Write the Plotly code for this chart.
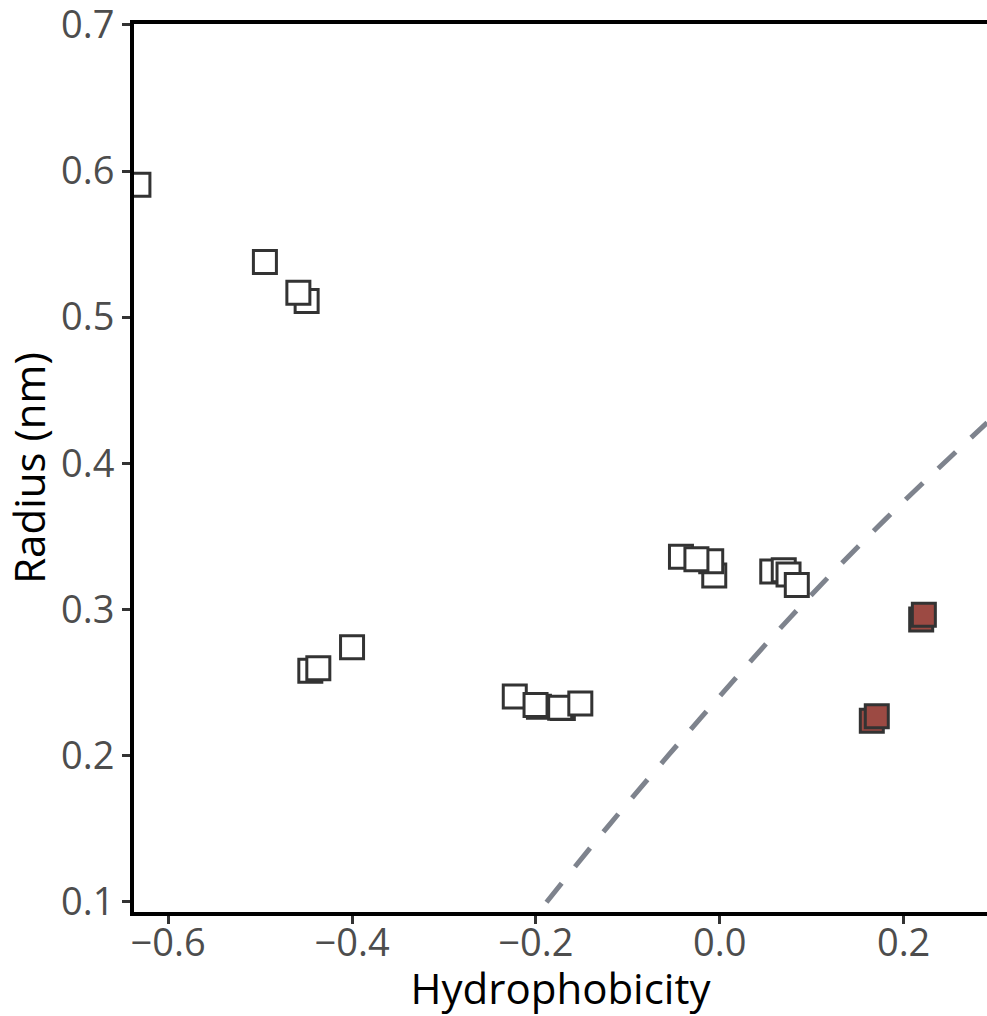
import plotly.graph_objects as go

# Open squares (hydrophobicity, radius)
open_x = [-0.6324, -0.4948, -0.4494, -0.4584, -0.4454, -0.4367, -0.4000,
          -0.2230, -0.1967, -0.2004, -0.1707, -0.1736, -0.1517,
          -0.0060, -0.0093, -0.0422, -0.0254,
          0.0571, 0.0696, 0.0748, 0.0838]
open_y = [0.5906, 0.5377, 0.5110, 0.5167, 0.2581, 0.2597, 0.2741,
          0.2404, 0.2335, 0.2347, 0.2325, 0.2328, 0.2356,
          0.3233, 0.3330, 0.3361, 0.3343,
          0.3260, 0.3269, 0.3240, 0.3168]

# Filled (predicted) squares
pred_x = [0.2191, 0.2220, 0.1654, 0.1708]
pred_y = [0.2932, 0.2964, 0.2239, 0.2269]

# Decision boundary (dashed curve)
bound_x = [-0.1885, -0.1188, -0.0216, 0.0775, 0.1806, 0.2909]
bound_y = [0.0997, 0.1537, 0.2251, 0.2951, 0.3620, 0.4278]

x_ticks = [-0.6, -0.4, -0.2, 0.0, 0.2]
x_ticktext = ["\u22120.6", "\u22120.4", "\u22120.2", "0.0", "0.2"]
y_ticks = [0.1, 0.2, 0.3, 0.4, 0.5, 0.6, 0.7]
y_ticktext = ["0.1", "0.2", "0.3", "0.4", "0.5", "0.6", "0.7"]

FONT = "Open Sans"

fig = go.Figure()
fig.add_trace(go.Scatter(
    x=bound_x, y=bound_y, mode="lines", line_shape="spline",
    line=dict(color="#7E838D", width=5, dash="24px,21px"),
    hoverinfo="skip", showlegend=False))
fig.add_trace(go.Scatter(
    x=open_x, y=open_y, mode="markers",
    marker=dict(symbol="square", size=23, color="white",
                line=dict(color="#333333", width=3)),
    showlegend=False))
fig.add_trace(go.Scatter(
    x=pred_x, y=pred_y, mode="markers",
    marker=dict(symbol="square", size=23, color="#9C4A43",
                line=dict(color="#333333", width=3)),
    showlegend=False))

fig.update_layout(
    width=987, height=1016,
    margin=dict(l=134, r=0, t=24, b=104, autoexpand=False),
    paper_bgcolor="white", plot_bgcolor="white",
    font=dict(family=FONT, color="#000000"),
    annotations=[dict(text="Prediction", xref="paper", yref="paper",
                      x=0.505, y=1, xanchor="center", yanchor="bottom",
                      yshift=11, showarrow=False,
                      font=dict(family=FONT, size=42, color="#000000"))],
)
fig.update_xaxes(
    range=[-0.6372, 0.2907], tickvals=x_ticks, ticktext=x_ticktext,
    showgrid=False, zeroline=False,
    showline=True, linecolor="black", linewidth=4, mirror=True,
    ticks="outside", ticklen=8, tickwidth=3, tickcolor="#333333",
    ticklabelstandoff=-14, ticklabeloverflow="allow",
    tickfont=dict(family=FONT, size=38, color="#4D4D4D"),
    title=dict(text="Hydrophobicity", font=dict(family=FONT, size=42, color="black"),
               standoff=5),
)
fig.update_yaxes(
    range=[0.093, 0.7006], tickvals=y_ticks, ticktext=y_ticktext,
    showgrid=False, zeroline=False,
    showline=True, linecolor="black", linewidth=4,
    ticks="outside", ticklen=8, tickwidth=3, tickcolor="#333333",
    ticklabeloverflow="allow",
    tickfont=dict(family=FONT, size=38, color="#4D4D4D"),
    title=dict(text="Radius (nm)", font=dict(family=FONT, size=42, color="black"),
               standoff=6),
)

fig.write_html("out.html", config={"displayModeBar": False})

# remove the default page margin so the figure sits at the window's corner
with open("out.html", "r", encoding="utf-8") as f:
    html = f.read()
html = html.replace("<head>", "<head><style>html,body{margin:0;padding:0;overflow:hidden}</style>", 1)
with open("out.html", "w", encoding="utf-8") as f:
    f.write(html)
